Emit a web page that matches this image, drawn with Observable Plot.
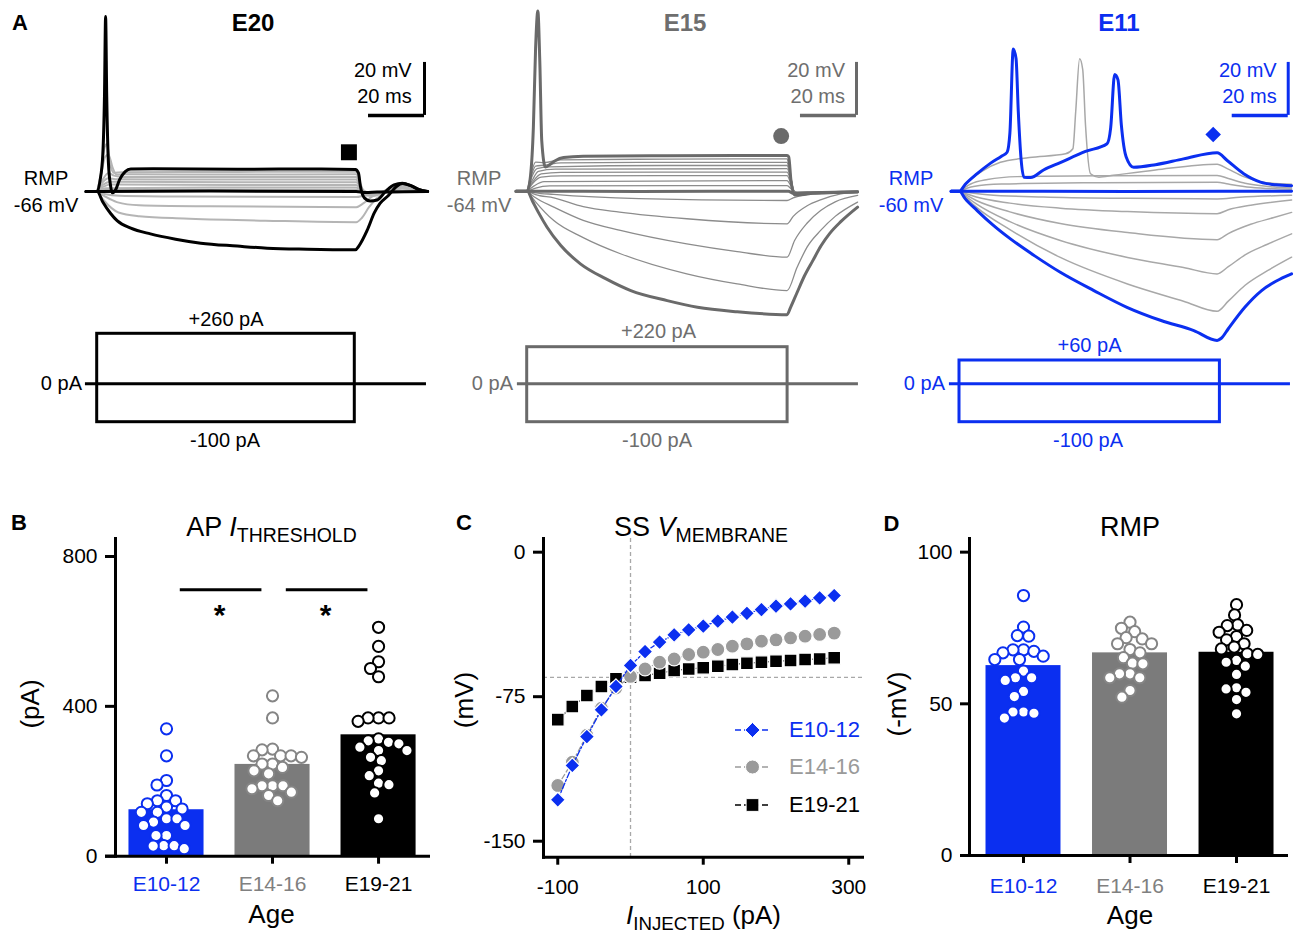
<!DOCTYPE html>
<html><head><meta charset="utf-8">
<script src="https://cdn.jsdelivr.net/npm/d3@7"></script>
<script src="https://cdn.jsdelivr.net/npm/@observablehq/plot@0.6"></script>
<style>
body{margin:0;background:#fff}
#fig{position:relative;width:1300px;height:943px;overflow:hidden;background:#fff;font-family:"Liberation Sans",Arial,Helvetica,sans-serif;color:#000}
#fig svg{position:absolute;overflow:visible}
.lbl{position:absolute;white-space:nowrap;line-height:1}
.lbl sub{font-size:0.72em;vertical-align:-0.32em;line-height:0}
</style></head><body><div id="fig"></div>
<script>
// ---------------- DATA ----------------
const ageGroups = ["E10-12", "E14-16", "E19-21"];

// B: AP threshold current (pA)
const thresholdTicks = [0, 400, 800];
const thresholdMean = [124, 245, 324];
const thresholdE1012 = [340,268,202,190,162,148,148,140,131,126,117,117,100,100,91,82,82,55,55,28,28,27,20];
const thresholdE1416 = [428,369,286,284,268,268,268,264,246,246,237,228,220,188,188,188,180,171,162,148];
const thresholdE1921 = [611,560,519,501,479,369,369,369,360,313,308,304,300,291,282,282,264,255,228,215,195,191,169,100];
const significance = [{from: 0, to: 1, text: "*"}, {from: 1, to: 2, text: "*"}];

// C: steady-state membrane voltage (mV) vs injected current (pA)
const injectedCurrent = [-100,-80,-60,-40,-20,0,20,40,60,80,100,120,140,160,180,200,220,240,260,280];
const ssE1012 = [-128.5,-110.7,-95.7,-81.8,-69.7,-58.8,-51.6,-46.7,-42.9,-40.3,-38.4,-35.8,-33.7,-31.7,-29.8,-28.0,-26.8,-25.4,-23.7,-22.5];
const ssE1416 = [-121.1,-109,-95,-81,-70.5,-64.5,-60.6,-57.1,-55.4,-53.1,-51.9,-50.5,-48.8,-47.6,-46.2,-45.5,-44.5,-43.6,-42.7,-42.0];
const ssE1921 = [-86.9,-80.1,-74.4,-69.7,-65.7,-64.9,-64.0,-62.8,-61.4,-60.6,-60.0,-59.2,-58.3,-57.6,-57.1,-56.6,-56.2,-55.7,-55.4,-54.8];
const ssVTicks = [0, -75, -150];
const ssITicks = [-100, 100, 300];
const ssRefV = -65, ssRefI = 0;

// D: resting membrane potential (-mV)
const rmpTicks = [0, 50, 100];
const rmpMean = [62.6, 66.8, 67.0];
const rmpE1012 = [85.7,75.3,72.5,72.3,67.8,67.8,67.3,66.8,65.7,64.6,64.6,60.8,58.6,58.6,57.7,54.1,52.4,47.3,47.3,46.9,45.3];
const rmpE1416 = [76.9,74.9,73.8,71.8,71.4,69.8,69.8,67.9,66.8,65.2,63.4,63.2,59.9,59.9,58.6,58.6,54.4,52.2];
const rmpE1921 = [82.7,79.3,76.0,75.8,74.2,73.6,72.2,71.1,69.8,68.7,68.1,66.5,66.3,64.3,63.7,62.4,59.7,55.3,54.9,53.8,51.4,46.7];

// A: voltage traces, [time ms, membrane mV]
const e20Thick = [
  [[-4,-66],[0,-66],[1,-62],[2,-52],[2.6,-30],[3,0],[3.4,-30],[4,-55],[4.8,-64],[5.4,-66.5],[6.5,-65.5],[8,-61.5],[10,-58.5],[12,-57.5],[20,-57.4],[50,-57.6],[80,-57.5],[92.2,-57.7],[93.3,-59],[94,-64],[95.5,-68.5],[97.5,-69.6],[100,-69.2],[103,-66],[106,-63.5],[109,-62.9],[112,-63.8],[115,-65.3],[118,-66]],
  [[-4,-66],[0,-66],[40,-65.8],[92.5,-66],[96,-66.4],[100,-66.2],[118,-66]],
  [[-4,-66],[0,-66],[2,-70],[4.8,-74.3],[7.1,-77],[12,-79.8],[19,-82],[28,-84],[37,-85.5],[50,-86.6],[60.7,-87.4],[75,-87.8],[92.2,-88],[93.5,-86.5],[96.4,-80.7],[99,-74],[101,-70.5],[104,-67.5],[107,-64],[109,-63],[112,-63.8],[115,-65.3],[118,-66]]
];
const e20Thin = [
  [[0,-66],[1.5,-58],[2.5,-50],[3.5,-48],[4.5,-55],[6,-59],[9,-58.7],[50,-58.6],[92.5,-58.5],[94,-63],[96,-67.5],[99,-67.6],[104,-65],[108,-63.6],[113,-65],[118,-66]],
  [[0,-66],[1.5,-59],[2.8,-53],[4,-52],[5.5,-57],[7,-59.7],[10,-59.5],[50,-59.6],[92.5,-59.5],[94,-63.5],[96,-67.3],[99,-67.4],[104,-65],[108,-63.7],[113,-65],[118,-66]],
  [[0,-66],[2,-61.5],[4,-59],[6,-60],[9,-60.5],[50,-60.5],[92.5,-60.5],[94,-64],[96,-67],[100,-67],[105,-64.8],[109,-63.8],[113,-65.1],[118,-66]],
  [[0,-66],[2,-62.5],[4,-61],[7,-61.4],[50,-61.5],[92.5,-61.5],[94,-64.5],[96,-66.8],[100,-66.8],[105,-64.9],[109,-64],[113,-65.2],[118,-66]],
  [[0,-66],[2,-63.5],[5,-62.3],[50,-62.5],[92.5,-62.5],[94.5,-65],[97,-66.6],[101,-66.5],[106,-64.8],[110,-64.2],[114,-65.3],[118,-66]],
  [[0,-66],[2,-64.3],[5,-63.4],[50,-63.5],[92.5,-63.5],[94.5,-65.5],[97,-66.4],[102,-66.2],[107,-64.8],[111,-64.6],[118,-66]],
  [[0,-66],[3,-64.8],[50,-64.5],[92.5,-64.5],[95,-66],[98,-66.3],[104,-65.8],[109,-65],[118,-66]],
  [[0,-66],[3,-65.4],[92.5,-65.3],[95,-66.2],[118,-66]],
  [[0,-66],[3,-67],[8,-67.6],[30,-67.9],[92.5,-68.1],[95,-67.6],[98,-66.8],[104,-66],[118,-66]],
  [[0,-66],[3,-68],[7,-70],[15,-71.2],[40,-71.6],[92.5,-71.9],[95,-70.5],[98,-68],[102,-66.3],[118,-66]],
  [[0,-66],[2.5,-69.5],[7.6,-73.9],[15,-75.3],[31,-76.2],[60,-77],[92.5,-77.6],[94.5,-76],[97,-72],[100,-68.5],[103,-66.5],[118,-66]]
];
const e15Thick = [
  [[-4,-64],[0,-64],[1.2,-58],[2.2,-40],[3,-10],[3.8,4],[4.5,-15],[5.2,-45],[6.5,-54.9],[8,-54],[10,-52.5],[13,-51.3],[20,-50.8],[50,-50.6],[92.8,-50.5],[93.4,-51],[94.2,-60],[95.5,-65.4],[98,-65.3],[102,-64.8],[110,-64.5],[118,-64.3]],
  [[-4,-64],[0,-64],[40,-64.1],[93.3,-64],[95,-64.8],[100,-64.6],[118,-64.2]],
  [[-4,-64],[0,-64],[2,-68],[4,-72],[7.1,-77.6],[12,-84.5],[19,-91.4],[28,-97],[37,-101.5],[50,-105.3],[60.8,-107.8],[75,-109.5],[92.8,-110.6],[94,-108],[96.2,-102.7],[99,-96],[102,-90.2],[105,-84.5],[108,-80],[112,-75.5],[118,-70]]
];
const e15Thin = [
  [[0,-64],[1.5,-57],[3,-53],[6,-53.2],[12,-52.2],[50,-51.9],[92.8,-51.8],[93.6,-55],[95.5,-65],[100,-64.9],[118,-64.2]],
  [[0,-64],[1.5,-58],[3,-54.5],[6,-54.2],[12,-53.3],[50,-53.1],[92.8,-53.1],[93.6,-56],[95.5,-65],[100,-64.9],[118,-64.2]],
  [[0,-64],[1.5,-59],[3.5,-55.5],[8,-54.8],[50,-54.3],[92.8,-54.3],[93.8,-57],[95.5,-64.9],[100,-64.8],[118,-64.2]],
  [[0,-64],[2,-59.5],[4,-56.5],[10,-55.7],[92.8,-55.5],[94,-58.5],[95.6,-64.8],[118,-64.2]],
  [[0,-64],[2,-60.5],[5,-57.5],[12,-56.9],[92.8,-56.8],[94,-59.5],[95.7,-64.7],[118,-64.2]],
  [[0,-64],[2,-61],[5,-58.7],[12,-58.2],[92.8,-58.1],[94,-60.5],[95.8,-64.6],[118,-64.2]],
  [[0,-64],[2.5,-62],[6,-60.4],[92.8,-60],[94.2,-62],[96,-64.5],[118,-64.2]],
  [[0,-64],[3,-62.8],[8,-62],[92.8,-61.9],[94.5,-63.3],[96.5,-64.4],[118,-64.2]],
  [[0,-64],[3,-64.6],[9.5,-65.2],[40,-66.8],[92.8,-67.5],[95,-66.5],[100,-65.2],[110,-64.4],[118,-64]],
  [[0,-64],[3,-65.3],[9.5,-66.5],[20,-69.8],[33,-71.9],[57,-74.4],[92.8,-76.3],[95,-73.5],[100,-69.5],[105,-67.2],[112,-65],[118,-64.3]],
  [[0,-64],[3,-66.5],[9.5,-70],[20,-75],[33.3,-78.8],[57,-83.9],[75,-86.8],[92.8,-88.9],[95.5,-82.6],[100,-76],[104.8,-71.3],[110,-68],[118,-65.6]],
  [[0,-64],[3,-68],[9.5,-75.1],[20,-81.5],[33.3,-87.6],[57,-95.2],[75,-99],[92.8,-101.5],[96.4,-92.7],[100,-85],[104.8,-78.8],[110,-73.5],[118,-68.1]]
];
const e11Thick = [
  [[-3,-60],[0,-60],[2,-57.5],[6.3,-53.4],[11,-49.5],[15,-46.8],[17,-45.3],[18,-38],[19.2,-6.3],[20.2,-10],[21,-30],[22,-48],[23,-54.7],[25.4,-54.8],[30,-52],[36,-49.2],[45,-45],[52.7,-42.1],[54,-36],[55.4,-16],[56.6,-18],[57.8,-35],[59.5,-47],[62.2,-51],[70,-50],[80,-47.8],[92,-45.5],[95.6,-48.4],[101.5,-53.4],[107.5,-56.6],[113,-57.6],[118.6,-57.9]],
  [[-3,-60],[0,-60],[60,-60.1],[118.6,-60]],
  [[-3,-60],[0,-60],[2,-62.8],[6.3,-67.3],[12,-72.8],[18.2,-78],[27,-84.5],[36,-90.6],[48,-97.5],[59.8,-103.8],[72,-108.8],[83.7,-112.6],[92,-116.3],[93.5,-115.5],[96,-111.9],[101.9,-103.8],[107.9,-97.5],[113,-94],[118.6,-91.2]]
];
const e11Thin = [
  [[0,-60],[3,-56.5],[8,-52.5],[14.6,-49.1],[25,-47.3],[37.9,-45.9],[40.5,-44],[41.5,-30],[42.9,-10],[44,-14],[45,-35],[46.8,-53.4],[49.8,-54.7],[55,-54],[70,-52],[92,-49.8],[95.6,-51.5],[101.5,-54.5],[108,-56.5],[118.6,-57.4]],
  [[0,-60],[4,-57.3],[10,-55.6],[20.6,-54.5],[50,-54.2],[92,-54.1],[96,-55.2],[102,-57],[110,-58.2],[118.6,-58.8]],
  [[0,-60],[5,-58.2],[15,-57.3],[50,-56.8],[92,-56.6],[96,-57.3],[104,-58.5],[118.6,-59.3]],
  [[0,-60],[10,-61.3],[30,-62.2],[60,-62.7],[92,-62.9],[100,-62.3],[118.6,-61.5]],
  [[0,-60],[6,-62.2],[18,-64.5],[36,-66.4],[60,-67.7],[92,-68.5],[96,-67],[104,-65.3],[118.6,-63.3]],
  [[0,-60],[6,-63.5],[18,-67.8],[36,-72.2],[60,-75.6],[92,-78.3],[96,-76],[104,-72.5],[112,-70],[118.6,-68]],
  [[0,-60],[6,-64.8],[18,-71.5],[36,-78.6],[60,-85],[80,-88.8],[92,-91.2],[96,-88.5],[102,-84],[110,-80],[118.6,-76.1]],
  [[0,-60],[6,-66],[18,-74.5],[36,-85],[60,-95],[80,-101.5],[92,-105.3],[96,-101.5],[102,-95.5],[110,-90],[118.6,-84.9]]
];
// current steps (pA) and markers of the SS measurement point
const stimE20 = {pos: 260, neg: -100, dur: 92};
const stimE15 = {pos: 220, neg: -100, dur: 93};
const stimE11 = {pos: 60, neg: -100, dur: 93};
const markE20 = {t: 89.9, v: -51.2};
const markE15 = {t: 90.7, v: -43.2};
const markE11 = {t: 90.6, v: -38.6};
const scaleBarMv = 20, scaleBarMs = 20;

// ---------------- LAYOUT / STYLE ----------------
const BLUE = "#0b2ff0";
const fig = document.getElementById("fig");
const FONT = '"Liberation Sans", Arial, Helvetica, sans-serif';
const baseStyle = {fontFamily: FONT, fontSize: "21px", color: "black", background: "transparent", overflow: "visible"};

function place(svg, left, top) { svg.style.left = left + "px"; svg.style.top = top + "px"; fig.appendChild(svg); }
function label(html, x, y, o = {}) {
  const {anchor = "middle", size = 20, weight = "normal", color = "#000", rotate = 0} = o;
  const el = document.createElement("div");
  el.className = "lbl"; el.innerHTML = html;
  el.style.left = x + "px"; el.style.top = y + "px";
  el.style.fontSize = size + "px"; el.style.fontWeight = weight; el.style.color = color;
  const tx = anchor === "middle" ? "-50%" : anchor === "end" ? "-100%" : "0";
  el.style.transform = `translate(${tx},-50%)` + (rotate ? ` rotate(${rotate}deg)` : "");
  fig.appendChild(el);
}
function swarm(vals, pxPerUnit, d) {
  const order = vals.map((v, i) => i).sort((a, b) => vals[b] - vals[a]);
  const placed = [], off = new Array(vals.length);
  for (const i of order) {
    const y = vals[i] * pxPerUnit;
    const cands = [0];
    for (const p of placed) {
      const dy = Math.abs(p.y - y);
      if (dy < d) { const dx = Math.sqrt(d * d - dy * dy); cands.push(p.x + dx, p.x - dx); }
    }
    cands.sort((a, b) => Math.abs(a) - Math.abs(b) || a - b);
    let chosen = 0;
    for (const c of cands) {
      if (placed.every(p => (p.x - c) ** 2 + (p.y - y) ** 2 >= d * d - 1e-6)) { chosen = c; break; }
    }
    placed.push({x: chosen, y}); off[i] = chosen;
  }
  return off;
}
const flat = arr => arr.flatMap((pts, k) => pts.map(([t, v]) => ({t, v, k})));

// ---------------- PANEL A ----------------
const KX = 2.8, KY = 2.65;
function tracePanel(p) {
  const H = 350;
  const xd = [(p.L - p.x0) / KX, (p.L + p.W - p.x0) / KX];
  const yd = [p.rmp + (p.y0 - H) / KY, p.rmp + p.y0 / KY];
  const svg = Plot.plot({
    width: p.W, height: H, margin: 0,
    x: {domain: xd, axis: null}, y: {domain: yd, axis: null},
    style: baseStyle,
    marks: [
      Plot.line(flat(p.thin), {x: "t", y: "v", z: "k", stroke: p.thinColor, strokeWidth: p.thinWidth, curve: "monotone-x"}),
      Plot.line(flat(p.thick), {x: "t", y: "v", z: "k", stroke: p.color, strokeWidth: 3, curve: "monotone-x"}),
      Plot.dot([p.mark], {x: "t", y: "v", symbol: p.symbol, r: p.r, fill: p.color, stroke: "none"}),
      Plot.ruleX([p.bar], {x: "t", y1: "v", y2: d => d.v + scaleBarMv, stroke: p.color, strokeWidth: 3}),
      Plot.ruleY([p.bar], {y: "v", x1: d => d.t - scaleBarMs, x2: "t", stroke: p.color, strokeWidth: 3.5})
    ]
  });
  place(svg, p.L, 0);
  // stimulus protocol (schematic: positive and negative half drawn at their own gain)
  const S = p.stim;
  const up = p.stimUp, down = 38.4;
  const sv = Plot.plot({
    width: p.W, height: 150, margin: 0,
    x: {domain: xd, axis: null},
    y: {transform: v => (v >= 0 ? v * up / S.pos : v * down / -S.neg), domain: [-down, up], range: [83.3 + down, 83.3 - up], axis: null},
    style: baseStyle,
    marks: [
      Plot.rect([S], {x1: () => 0, x2: d => d.dur, y1: "neg", y2: "pos", fill: "none", stroke: p.color, strokeWidth: 3}),
      Plot.ruleY([0], {x1: () => p.zeroFrom, x2: () => p.zeroTo, stroke: p.color, strokeWidth: 3})
    ]
  });
  place(sv, p.L, 300);
}
tracePanel({L: 0, W: 430, x0: 96.7, y0: 191, rmp: -66, thin: e20Thin, thick: e20Thick, thinColor: "#b5b5b5", thinWidth: 2,
  color: "#000", mark: markE20, symbol: "square", r: 9, bar: {t: 116.9, v: -37.3}, stim: stimE20, stimUp: 50, zeroFrom: -4.2, zeroTo: 117.6});
tracePanel({L: 430, W: 432, x0: 526.7, y0: 190.7, rmp: -64, thin: e15Thin, thick: e15Thick, thinColor: "#8c8c8c", thinWidth: 1.3,
  color: "#6a6a6a", mark: markE15, symbol: "circle", r: 8, bar: {t: 117.6, v: -35.4}, stim: stimE15, stimUp: 36.6, zeroFrom: -3.5, zeroTo: 118.3});
tracePanel({L: 860, W: 440, x0: 959, y0: 190.7, rmp: -60, thin: e11Thin, thick: e11Thick, thinColor: "#a8a8a8", thinWidth: 1.5,
  color: BLUE, mark: markE11, symbol: "diamond2", r: 7, bar: {t: 117.4, v: -31.4}, stim: stimE11, stimUp: 23.3, zeroFrom: -3.6, zeroTo: 118.2});

label("A", 20, 23, {size: 22, weight: "bold"});
label("E20", 253, 23, {size: 24, weight: "bold"});
label("E15", 685, 23, {size: 24, weight: "bold", color: "#6e6e6e"});
label("E11", 1119, 23, {size: 24, weight: "bold", color: BLUE});
[[411.7, "#000"], [845, "#6e6e6e"], [1276.7, BLUE]].forEach(([x, c]) => {
  label("20 mV", x, 70, {anchor: "end", color: c});
  label("20 ms", x, 96, {anchor: "end", color: c});
});
[[46, "-66 mV", "#000"], [479, "-64 mV", "#6e6e6e"], [911, "-60 mV", BLUE]].forEach(([x, t, c]) => {
  label("RMP", x, 178, {color: c});
  label(t, x, 205, {color: c});
});
label("+260 pA", 226, 318.5); label("-100 pA", 225, 440); label("0 pA", 82, 383, {anchor: "end"});
label("+220 pA", 658.5, 330.5, {color: "#6e6e6e"}); label("-100 pA", 657, 440, {color: "#6e6e6e"}); label("0 pA", 513, 383, {anchor: "end", color: "#6e6e6e"});
label("+60 pA", 1089.5, 344.5, {color: BLUE}); label("-100 pA", 1088, 440, {color: BLUE}); label("0 pA", 945, 383, {anchor: "end", color: BLUE});

// ---------------- PANEL B & D (bars + dots) ----------------
const barColors = [BLUE, "#7b7b7b", "#000"];
const dotStroke = [BLUE, "#858585", "#000"];
const textColors = [BLUE, "#808080", "#000"];

function barPanel(p) {
  const bars = ageGroups.map((g, i) => ({i, group: g, mean: p.means[i], color: barColors[i], textColor: textColors[i]}));
  const pts = p.values.flatMap((vals, i) => {
    const off = swarm(vals, p.pxPerUnit, 10.5);
    return vals.map((v, k) => ({x: i + off[k] / p.pxPerIndex, v, stroke: dotStroke[i]}));
  });
  const marks = [
    Plot.rect(bars, {x1: d => d.i - p.half, x2: d => d.i + p.half, y1: () => 0, y2: "mean", fill: "color"}),
    Plot.dot(pts, {x: "x", y: "v", r: 5.6, fill: "white", stroke: "stroke", strokeWidth: 2})
  ];
  if (p.sig) {
    marks.push(Plot.ruleY(p.sig, {x1: d => d.from + 0.13, x2: d => d.to - 0.1, y: () => p.sigY, strokeWidth: 3}));
    marks.push(Plot.text(p.sig, {x: d => (d.from + d.to) / 2, y: () => p.starY, text: "text", fontSize: 30, fontWeight: "bold"}));
  }
  marks.push(
    Plot.ruleY([0], {insetLeft: p.extend, strokeWidth: 3}),
    Plot.frame({anchor: "left", strokeWidth: 3}),
    Plot.axisY({ticks: p.ticks, tickSize: p.tickSize, tickPadding: 8, strokeWidth: 3, fontSize: 21, label: null, tickFormat: d => String(d)}),
    Plot.axisX({ticks: [0, 1, 2], tickSize: 8, strokeWidth: 3, tickFormat: () => "", label: null}),
    Plot.text(bars, {x: "i", y: () => 0, dy: p.labelDy, text: "group", fill: "textColor", fontSize: 21})
  );
  const svg = Plot.plot({
    width: p.W, height: 443, marginLeft: p.mL, marginRight: p.mR, marginTop: 38, marginBottom: p.mB,
    x: {domain: p.xd, axis: null}, y: {domain: p.yd, axis: null},
    color: {type: "identity"},
    style: baseStyle, marks
  });
  place(svg, p.L, 500);
}
barPanel({L: 0, W: 440, mL: 115, mR: 10, mB: 87.3, xd: [-0.481, 2.49], yd: [0, 848], means: thresholdMean,
  values: [thresholdE1012, thresholdE1416, thresholdE1921], pxPerUnit: 0.3746, pxPerIndex: 106.03, half: 0.354,
  ticks: thresholdTicks, tickSize: 10, extend: -10, labelDy: 28.5, sig: significance, sigY: 711, starY: 642});
barPanel({L: 870, W: 430, mL: 99, mR: 12, mB: 88, xd: [-0.507, 2.488], yd: [0, 104.5], means: rmpMean,
  values: [rmpE1012, rmpE1416, rmpE1921], pxPerUnit: 3.034, pxPerIndex: 106.5, half: 0.352,
  ticks: rmpTicks, tickSize: 9, extend: -7, labelDy: 30.3});

label("B", 19, 523, {size: 22, weight: "bold"});
label("AP <i>I</i><sub>THRESHOLD</sub>", 271.5, 527, {size: 27});
label("(pA)", 30, 704, {size: 26, rotate: -90});
label("Age", 271.5, 914, {size: 26});
label("D", 891.5, 524, {size: 22, weight: "bold"});
label("RMP", 1130, 526.5, {size: 27});
label("(-mV)", 896.5, 703.5, {size: 26, rotate: -90});
label("Age", 1130, 915, {size: 26});

// ---------------- PANEL C ----------------
const series = [
  {name: "E19-21", vals: ssE1921, color: "#000", symbol: "square", r: 7.2, dash: "5,3"},
  {name: "E14-16", vals: ssE1416, color: "#9a9a9a", symbol: "circle", r: 7, dash: "5,3"},
  {name: "E10-12", vals: ssE1012, color: BLUE, symbol: "diamond2", r: 6.8, dash: "6,2,2,2"}
];
const cMarks = [
  Plot.ruleX([ssRefI], {stroke: "#a8a8a8", strokeDasharray: "4,3", strokeWidth: 1.3}),
  Plot.ruleY([ssRefV], {stroke: "#a8a8a8", strokeDasharray: "4,3", strokeWidth: 1.3})
];
series.forEach(s => {
  const rows = injectedCurrent.map((c, i) => ({c, v: s.vals[i]}));
  cMarks.push(Plot.line(rows, {x: "c", y: "v", stroke: s.color, strokeWidth: 1.3, strokeDasharray: s.dash}));
  cMarks.push(Plot.dot(rows, {x: "c", y: "v", symbol: s.symbol, r: s.r, fill: s.color, stroke: "white", strokeWidth: 1.2}));
});
cMarks.push(
  Plot.frame({anchor: "left", strokeWidth: 3}),
  Plot.frame({anchor: "bottom", strokeWidth: 3}),
  Plot.axisY({ticks: ssVTicks, tickSize: 10, tickPadding: 8, strokeWidth: 3, fontSize: 21, label: null, tickFormat: d => String(d)}),
  Plot.axisX({ticks: ssITicks, tickSize: 8, tickPadding: 14, strokeWidth: 3, fontSize: 21, label: null, tickFormat: d => String(d)})
);
place(Plot.plot({
  width: 450, height: 443, marginLeft: 113, marginRight: 18, marginTop: 38, marginBottom: 86.3,
  x: {domain: [-119.6, 318.9], axis: null}, y: {domain: [-158.3, 7.1], axis: null},
  style: baseStyle, marks: cMarks
}), 430, 500);

label("C", 464, 523, {size: 22, weight: "bold"});
label("SS <i>V</i><sub>MEMBRANE</sub>", 701, 526.5, {size: 27});
label("(mV)", 463.5, 700, {size: 26, rotate: -90});
label("<i>I</i><sub>INJECTED</sub> (pA)", 703.5, 915, {size: 26});

// legend for C
const legendRows = [series[2], series[1], series[0]];
legendRows.forEach((s, k) => {
  const y = [730, 767, 805][k];
  const ns = "http://www.w3.org/2000/svg";
  const sw = document.createElementNS(ns, "svg");
  sw.setAttribute("width", 40); sw.setAttribute("height", 20);
  sw.style.left = "733px"; sw.style.top = (y - 10) + "px";
  const ln = document.createElementNS(ns, "line");
  ln.setAttribute("x1", 2); ln.setAttribute("x2", 37); ln.setAttribute("y1", 10); ln.setAttribute("y2", 10);
  ln.setAttribute("stroke", s.color); ln.setAttribute("stroke-width", 1.5); ln.setAttribute("stroke-dasharray", "6,3");
  sw.appendChild(ln);
  const sym = {square: d3.symbolSquare, circle: d3.symbolCircle, diamond2: d3.symbolDiamond2}[s.symbol];
  const path = document.createElementNS(ns, "path");
  path.setAttribute("d", d3.symbol(sym, Math.PI * s.r * s.r)());
  path.setAttribute("transform", "translate(19.5,10)");
  path.setAttribute("fill", s.color); path.setAttribute("stroke", "white");
  sw.appendChild(path);
  fig.appendChild(sw);
  label(s.name, 789, y, {anchor: "start", size: 22, color: s.color});
});
</script></body></html>
